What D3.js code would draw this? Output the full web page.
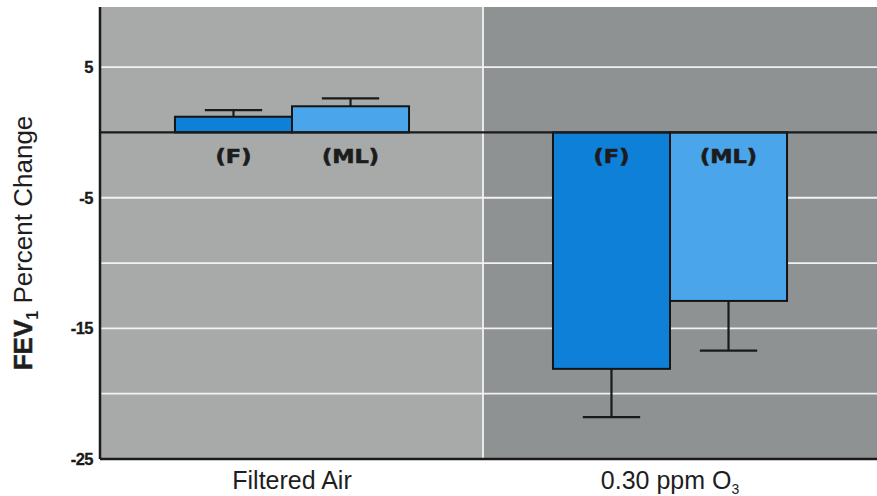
<!DOCTYPE html>
<html>
<head>
<meta charset="utf-8">
<script src="https://cdn.jsdelivr.net/npm/d3@7"></script>
<style>
  body { margin: 0; background: #fff; }
  svg { display: block; font-family: "Liberation Sans", Arial, sans-serif; }
</style>
</head>
<body>
<div id="chart"></div>
<script>
const conditions = ["Filtered Air", "0.30 ppm O3"];
const groups = ["(F)", "(ML)"];
const meanChange = [[1.2, 2.0], [-18.1, -12.9]];
const errorEnd = [[1.7, 2.6], [-21.8, -16.7]];
const yTicks = [5, -5, -15, -25];
const gridValues = [5, -5, -10, -15, -20];

const W = 877, H = 496;
const margin = { top: 7, right: 0, bottom: 37, left: 100 };

const svg = d3.select("#chart").append("svg")
  .attr("width", W).attr("height", H);

const y = d3.scaleLinear().domain([-25, 9.6]).range([H - margin.bottom, margin.top]);
const x0 = d3.scaleBand().domain(conditions).range([103, 859]).padding(0);
const x1 = d3.scaleBand().domain(groups).range([0, x0.bandwidth()])
  .paddingInner(0).paddingOuter(0.615);

const panelFill = ["#a8aaaa", "#8f9292"];
const divX = x0(conditions[1]) + 2;

// panels
svg.append("g").selectAll("rect")
  .data(conditions)
  .join("rect")
  .attr("x", (d, i) => i === 0 ? margin.left : divX)
  .attr("y", margin.top)
  .attr("width", (d, i) => i === 0 ? divX - margin.left : W - divX)
  .attr("height", y(-25) - margin.top)
  .attr("fill", (d, i) => panelFill[i]);

// grid
svg.append("g").selectAll("line")
  .data(gridValues)
  .join("line")
  .attr("x1", margin.left).attr("x2", W)
  .attr("y1", d => y(d)).attr("y2", d => y(d))
  .attr("stroke", "#f2f2f2").attr("stroke-width", 1.8);

// panel divider
svg.append("line")
  .attr("x1", divX).attr("x2", divX)
  .attr("y1", margin.top).attr("y2", y(-25))
  .attr("stroke", "#f2f2f2").attr("stroke-width", 1.8);

const barColor = ["#0f80d8", "#4aa5ea"];

const cond = svg.append("g").selectAll("g")
  .data(conditions)
  .join("g")
  .attr("transform", d => `translate(${x0(d)},0)`);

// error bars
cond.selectAll("g.err")
  .data((d, i) => groups.map((g, j) => ({ g, v: meanChange[i][j], e: errorEnd[i][j] })))
  .join("g")
  .attr("class", "err")
  .each(function (d) {
    const cx = x1(d.g) + x1.bandwidth() / 2;
    const half = x1.bandwidth() * 0.245;
    const g = d3.select(this);
    g.append("line").attr("x1", cx).attr("x2", cx)
      .attr("y1", y(d.v)).attr("y2", y(d.e))
      .attr("stroke", "#1a1a1a").attr("stroke-width", 2.2);
    g.append("line").attr("x1", cx - half).attr("x2", cx + half)
      .attr("y1", y(d.e)).attr("y2", y(d.e))
      .attr("stroke", "#1a1a1a").attr("stroke-width", 2.2);
  });

// bars
cond.selectAll("rect")
  .data((d, i) => groups.map((g, j) => ({ g, j, v: meanChange[i][j] })))
  .join("rect")
  .attr("x", d => x1(d.g))
  .attr("width", x1.bandwidth())
  .attr("y", d => y(Math.max(0, d.v)))
  .attr("height", d => Math.abs(y(d.v) - y(0)))
  .attr("fill", d => barColor[d.j])
  .attr("stroke", "#141414").attr("stroke-width", 2);

// group labels (heavy, extended type)
cond.selectAll("text")
  .data(groups)
  .join("text")
  .attr("transform", d => `translate(${x1(d) + x1.bandwidth() / 2},${y(0) + 31}) scale(1.18,1)`)
  .attr("text-anchor", "middle")
  .attr("font-family", "DejaVu Sans, sans-serif")
  .attr("font-weight", "bold")
  .attr("font-size", 19)
  .attr("fill", "#1c1c1c")
  .attr("stroke", "#1c1c1c").attr("stroke-width", 0.6)
  .text(d => d);

// zero line
svg.append("line")
  .attr("x1", margin.left).attr("x2", W)
  .attr("y1", y(0)).attr("y2", y(0))
  .attr("stroke", "#1a1a1a").attr("stroke-width", 2.2);

// y axis
const yAxis = svg.append("g")
  .attr("transform", `translate(${margin.left},0)`)
  .call(d3.axisLeft(y).tickValues(yTicks).tickSize(0).tickPadding(7).tickFormat(d => String(d)));
yAxis.select(".domain").attr("stroke", "#1a1a1a").attr("stroke-width", 2.5)
  .attr("d", `M0,${margin.top}V${y(-25)}`);
yAxis.selectAll("text")
  .attr("font-size", 16.5).attr("font-weight", "bold").attr("fill", "#1a1a1a")
  .attr("font-family", "Liberation Sans, Arial, sans-serif")
  .attr("stroke", "#1a1a1a").attr("stroke-width", 0.3)
  .attr("letter-spacing", -0.5);

// x axis
const xAxis = svg.append("g")
  .attr("transform", `translate(0,${y(-25)})`)
  .call(d3.axisBottom(x0).tickSize(0).tickFormat(() => ""));
xAxis.select(".domain").attr("stroke", "#1a1a1a").attr("stroke-width", 2.5)
  .attr("d", `M${margin.left},0H${W}`);
xAxis.selectAll(".tick text").remove();

xAxis.selectAll(".tick").append("text")
  .attr("y", 30)
  .attr("text-anchor", "middle")
  .attr("font-size", 25)
  .attr("fill", "#1e1e1e")
  .attr("font-family", "Liberation Sans, Arial, sans-serif")
  .each(function (d) {
    const t = d3.select(this);
    if (d.endsWith("O3")) {
      t.append("tspan").text(d.slice(0, -1));
      t.append("tspan").attr("font-size", 14).attr("dy", 5).text("3");
    } else {
      t.text(d);
    }
  });

// y title
const title = svg.append("text")
  .attr("transform", `translate(32,243) rotate(-90)`)
  .attr("text-anchor", "middle")
  .attr("font-size", 26)
  .attr("fill", "#1e1e1e");
title.append("tspan").attr("font-weight", "bold").attr("stroke", "#1e1e1e").attr("stroke-width", 0.5).text("FEV");
title.append("tspan").attr("font-weight", "bold").attr("font-size", 16).attr("dy", 6).text("1");
title.append("tspan").attr("dy", -6).text(" Percent Change");
</script>
</body>
</html>
